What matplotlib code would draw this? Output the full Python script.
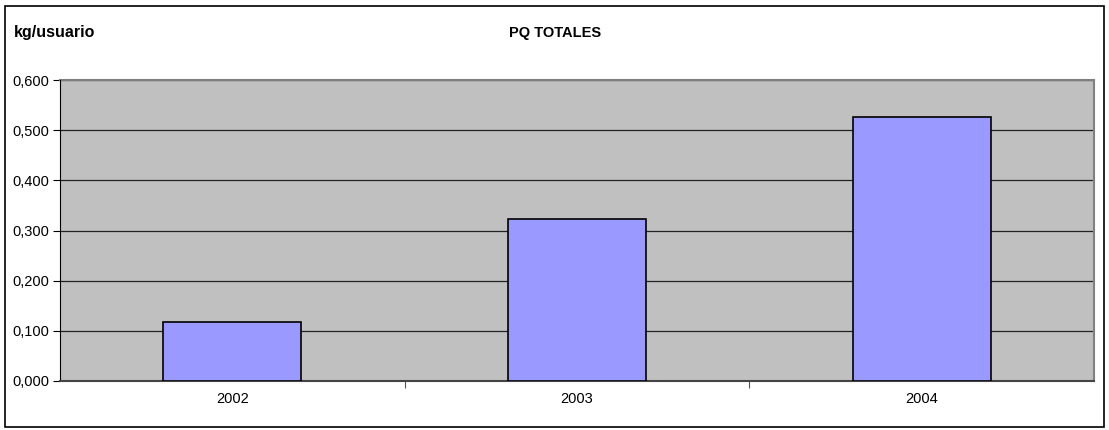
import matplotlib
matplotlib.use("Agg")
import matplotlib.pyplot as plt
from matplotlib.patches import Rectangle

years = ["2002", "2003", "2004"]
values = [0.118, 0.322, 0.526]
yticks = [0.0, 0.1, 0.2, 0.3, 0.4, 0.5, 0.6]

plt.rcParams['font.family'] = ['Liberation Sans', 'DejaVu Sans']

W, H = 1109, 430
fig = plt.figure(figsize=(W / 100, H / 100), dpi=100)
fig.patch.set_facecolor("white")

# outer chart border
fig.add_artist(Rectangle((5 / W, 1 - 427 / H), 1099 / W, 421 / H,
                         transform=fig.transFigure, fill=False,
                         edgecolor="black", linewidth=1.2))

left, right, top, bottom = 60, 1094, 80, 381
ax = fig.add_axes([left / W, 1 - bottom / H, (right - left) / W, (bottom - top) / H])
ax.set_facecolor("#C0C0C0")

x = list(range(len(years)))
ax.bar(x, values, width=0.4, color="#9999FF", edgecolor="black", linewidth=1.2, zorder=3)

ax.set_xlim(-0.5, len(years) - 0.5)
ax.set_ylim(0, 0.6)
ax.set_yticks(yticks)
ax.set_yticklabels([f"{v:.3f}".replace(".", ",") for v in yticks], fontsize=10.5)
ax.yaxis.grid(True, color="#222222", linewidth=0.9, zorder=1)
ax.set_axisbelow(True)

ax.set_xticks([0.5, 1.5])
ax.set_xticklabels([])
ax.set_xticks(x, minor=True)
ax.set_xticklabels(years, minor=True, fontsize=10.5)
ax.tick_params(axis="x", which="minor", length=0, pad=8)
ax.tick_params(axis="x", which="major", length=5, color="#555555")
ax.tick_params(axis="y", length=5, pad=3)

ax.spines["top"].set_color("#808080")
ax.spines["top"].set_linewidth(1.5)
ax.spines["top"].set_zorder(2)
ax.spines["right"].set_color("#808080")
ax.spines["right"].set_linewidth(1.5)
ax.spines["left"].set_color("black")
ax.spines["bottom"].set_color("#444444")
ax.spines["bottom"].set_linewidth(1.5)

fig.text(14 / W, 1 - 33 / H, "kg/usuario", fontsize=11.5, fontweight="bold", va="center", ha="left")
fig.text(555 / W, 1 - 33 / H, "PQ TOTALES", fontsize=10.5, fontweight="bold", va="center", ha="center")

fig.savefig("out.png", dpi=100)
